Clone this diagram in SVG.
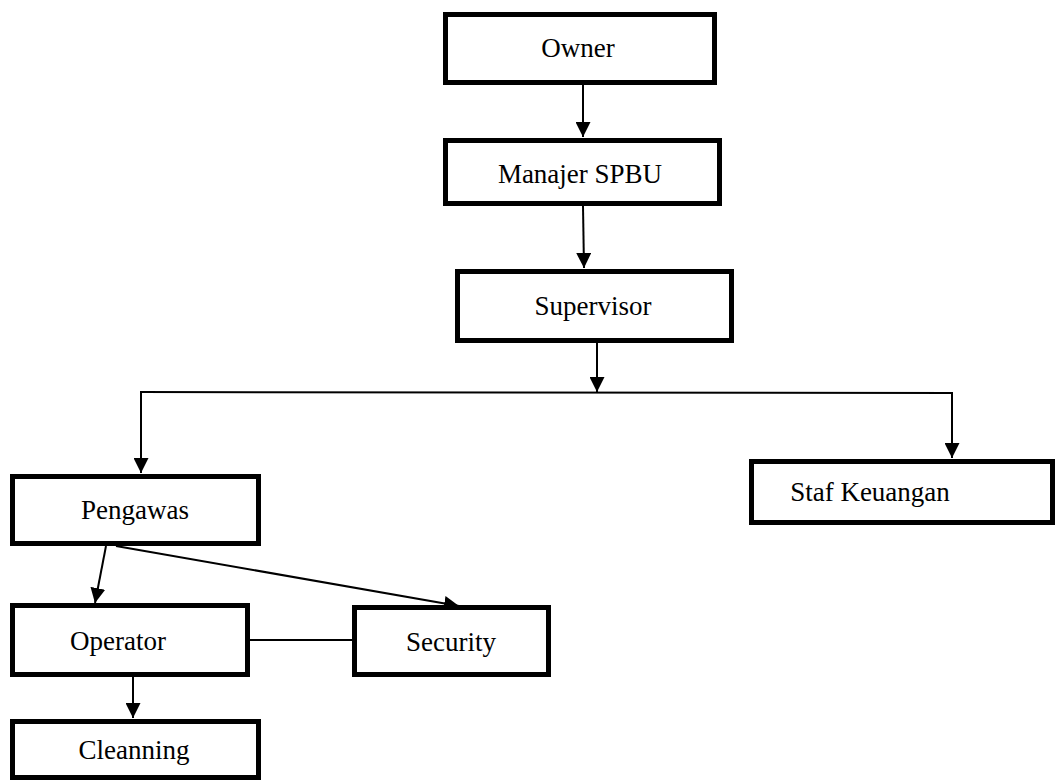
<svg xmlns="http://www.w3.org/2000/svg" width="1056" height="781" viewBox="0 0 1056 781">
<style>
.box{fill:#fff;stroke:#000;stroke-width:5}
.t{font-family:"Liberation Serif","Times New Roman",serif;font-size:27px;fill:#000;text-anchor:middle}
.c{stroke:#000;stroke-width:2;fill:none}
.a{marker-end:url(#ah)}
</style>
<defs>
<marker id="ah" viewBox="0 0 10 10" refX="10" refY="5" markerWidth="15" markerHeight="15" markerUnits="userSpaceOnUse" orient="auto">
<path d="M0,0 L10,5 L0,10 z" fill="#000"/>
</marker>
</defs>
<rect width="1056" height="781" fill="#fff"/>
<g id="connectors">
<line class="c a" x1="583" y1="85" x2="583" y2="137"/>
<line class="c a" x1="583" y1="206" x2="584" y2="268"/>
<line class="c a" x1="597" y1="343" x2="597" y2="392"/>
<line class="c" x1="140" y1="392" x2="953" y2="393"/>
<line class="c a" x1="141" y1="392" x2="141" y2="473"/>
<line class="c a" x1="952" y1="393" x2="952" y2="458"/>
<line class="c a" x1="106" y1="546" x2="95" y2="603"/>
<line class="c a" x1="116" y1="546" x2="459" y2="606"/>
<line class="c" x1="250" y1="640" x2="352" y2="640"/>
<line class="c a" x1="133" y1="676" x2="133" y2="718"/>
</g>
<g id="owner"><rect class="box" x="445.5" y="14.5" width="269" height="68"/><text class="t" x="578" y="57">Owner</text></g>
<g id="manajer"><rect class="box" x="445.5" y="140.5" width="274" height="63"/><text class="t" x="580" y="183">Manajer SPBU</text></g>
<g id="supervisor"><rect class="box" x="457.5" y="271.5" width="274" height="69"/><text class="t" x="593" y="315">Supervisor</text></g>
<g id="pengawas"><rect class="box" x="12.5" y="476.5" width="246" height="67"/><text class="t" x="135" y="519">Pengawas</text></g>
<g id="staf"><rect class="box" x="751.5" y="461.5" width="301" height="61"/><text class="t" x="870" y="501">Staf Keuangan</text></g>
<g id="operator"><rect class="box" x="12.5" y="605.5" width="235" height="69"/><text class="t" x="118" y="650">Operator</text></g>
<g id="security"><rect class="box" x="354.5" y="607.5" width="194" height="67"/><text class="t" x="451" y="651">Security</text></g>
<g id="cleanning"><rect class="box" x="12.5" y="721.5" width="246" height="56"/><text class="t" x="134" y="759">Cleanning</text></g>
</svg>
